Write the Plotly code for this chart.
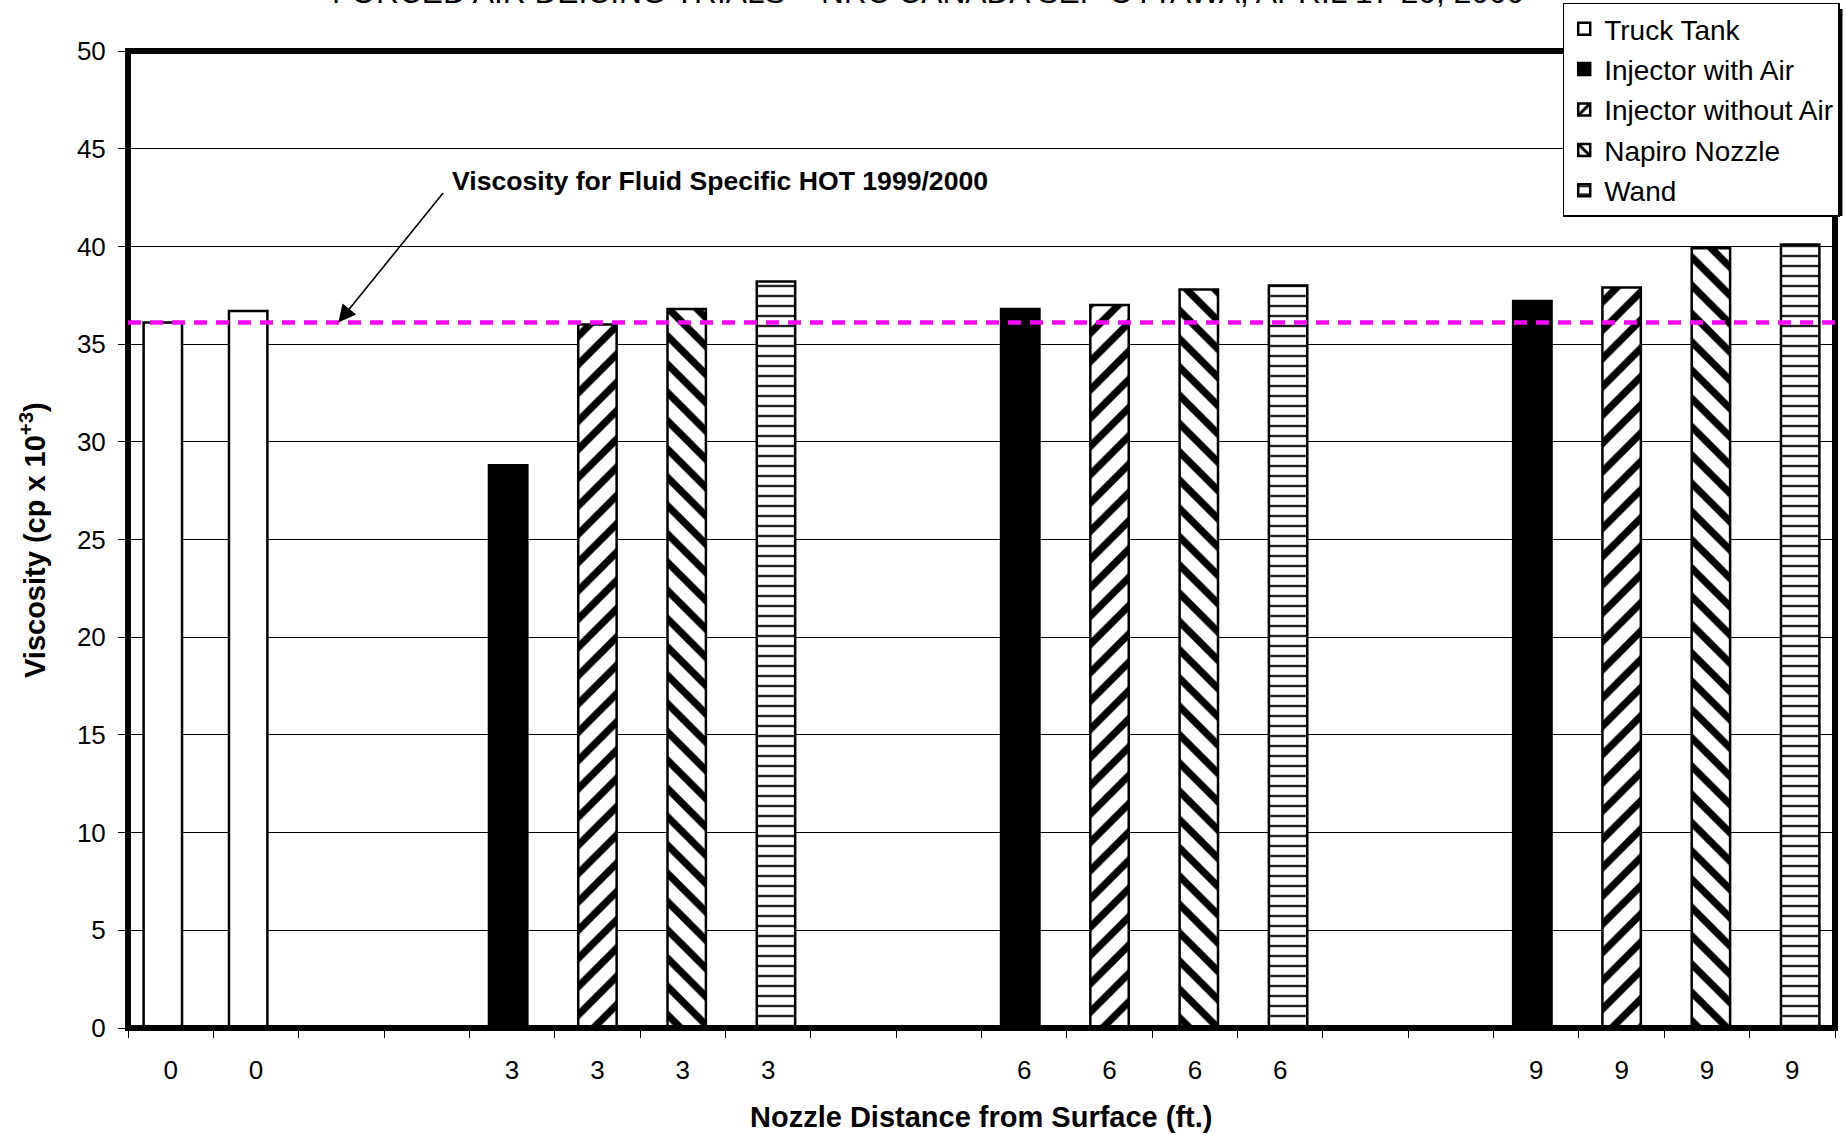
import plotly.graph_objects as go

# ---------------- data ----------------
x_labels = ["0", "0", "", "", "3", "3", "3", "3", "", "", "6", "6", "6", "6", "", "", "9", "9", "9", "9"]
series_names = ["Truck Tank", "Injector with Air", "Injector without Air", "Napiro Nozzle", "Wand"]

truck_tank = [36.1, 36.7, None, None, None, None, None, None, None, None,
              None, None, None, None, None, None, None, None, None, None]
injector_with_air = [None, None, None, None, 28.8, None, None, None, None, None,
                     36.8, None, None, None, None, None, 37.2, None, None, None]
injector_without_air = [None, None, None, None, None, 36.0, None, None, None, None,
                        None, 37.0, None, None, None, None, None, 37.9, None, None]
napiro_nozzle = [None, None, None, None, None, None, 36.8, None, None, None,
                 None, None, 37.8, None, None, None, None, None, 39.9, None]
wand = [None, None, None, None, None, None, None, 38.2, None, None,
        None, None, None, 38.0, None, None, None, None, None, 40.1]

hot_viscosity = 36.1

title_text = "FORCED AIR DEICING TRIALS \u2013 NRC CANADA SEP OTTAWA, APRIL 17-20, 2000"
hot_label = "Viscosity for Fluid Specific HOT 1999/2000"
x_title = "Nozzle Distance from Surface (ft.)"
y_title = "Viscosity (cp x 10<sup>+3</sup>)"

# ---------------- layout geometry ----------------
W, H = 1847, 1134
ML, MR, MT, MB = 128, 12, 51, 106
PW, PH = W - ML - MR, H - MT - MB


def px_x(p):
    return (p - ML) / PW


def px_y(p):
    return (H - MB - p) / PH


FONT = "Liberation Sans, Arial, sans-serif"

styles = [
    dict(color="white", pattern=None),
    dict(color="black", pattern=None),
    dict(color="white", pattern=dict(shape="/", fgcolor="#000000", bgcolor="#ffffff", fgopacity=1,
                                     size=20, solidity=0.36)),
    dict(color="white", pattern=dict(shape="\\", fgcolor="#000000", bgcolor="#ffffff", fgopacity=1,
                                     size=20, solidity=0.36)),
    dict(color="white", pattern=dict(shape="-", fgcolor="#222222", bgcolor="#ffffff", fgopacity=1,
                                     size=10, solidity=0.24)),
]

all_series = [truck_tank, injector_with_air, injector_without_air, napiro_nozzle, wand]
positions = list(range(len(x_labels)))
bar_w = 0.45
shift = 0.046

fig = go.Figure()
for s, (name, vals) in enumerate(zip(series_names, all_series)):
    st = styles[s]
    marker = dict(color=st["color"], opacity=1, line=dict(color="black", width=2.5))
    if st["pattern"] is not None:
        marker["pattern"] = st["pattern"]
    fig.add_trace(go.Bar(
        x=positions, y=vals, name=name, marker=marker, legendgroup=name,
        width=bar_w, offset=-bar_w / 2 + (s - 2) * shift,
    ))

# legend shadow (drawn below legend)
fig.add_shape(type="rect", xref="paper", yref="paper",
              x0=px_x(1568), x1=px_x(1842.5), y0=px_y(216), y1=px_y(9),
              fillcolor="black", line=dict(width=0), layer="above")

# plot border
fig.add_shape(type="rect", xref="paper", yref="paper", x0=0, x1=1, y0=0, y1=1,
              line=dict(color="black", width=6), layer="above")

# HOT viscosity line
fig.add_shape(type="line", xref="paper", yref="y", x0=0, x1=1, y0=hot_viscosity, y1=hot_viscosity,
              line=dict(color="#FF00FF", width=4.5, dash="13px,9px"), layer="above")

# arrow
fig.add_annotation(x=1.964, y=hot_viscosity, xref="x", yref="y", text="",
                   showarrow=True, ax=106, ay=-131, axref="pixel", ayref="pixel",
                   arrowhead=2, arrowsize=2.2, arrowwidth=1.6, arrowcolor="black")
# arrow label
fig.add_annotation(x=px_x(450), y=px_y(181), xref="paper", yref="paper",
                   text="<b>" + hot_label + "</b>", showarrow=False,
                   xanchor="left", yanchor="middle",
                   font=dict(family=FONT, size=26.6, color="black"))
# title (cut off at top like the reference)
fig.add_annotation(x=px_x(928), y=px_y(-8.5), xref="paper", yref="paper",
                   text=title_text, showarrow=False, xanchor="center", yanchor="middle",
                   font=dict(family=FONT, size=31.7, color="black"))
# axis titles
fig.add_annotation(x=px_x(981), y=px_y(1117), xref="paper", yref="paper",
                   text="<b>" + x_title + "</b>", showarrow=False,
                   xanchor="center", yanchor="middle",
                   font=dict(family=FONT, size=29, color="black"))
fig.add_annotation(x=px_x(33), y=px_y(540), xref="paper", yref="paper",
                   text="<b>" + y_title + "</b>", showarrow=False, textangle=-90,
                   xanchor="center", yanchor="middle",
                   font=dict(family=FONT, size=29, color="black"))

fig.update_layout(
    width=W, height=H,
    margin=dict(l=ML, r=MR, t=MT, b=MB, pad=0, autoexpand=False),
    paper_bgcolor="white", plot_bgcolor="white",
    barmode="overlay",
    font=dict(family=FONT, size=26, color="black"),
    showlegend=True,
    legend=dict(x=px_x(1562.7), y=px_y(2.5), xanchor="left", yanchor="top",
                bgcolor="white", bordercolor="black", borderwidth=1.5,
                font=dict(family=FONT, size=28, color="black"),
                tracegroupgap=1, itemclick=False, itemdoubleclick=False),
    xaxis=dict(range=[-0.5, len(x_labels) - 0.5], tickmode="array", tickvals=positions,
               ticktext=x_labels, ticks="", showgrid=False, zeroline=False, showline=False,
               ticklabelstandoff=24, tickfont=dict(size=26),
               minor=dict(ticks="outside", ticklen=9, tickwidth=1, tickcolor="black",
                          tick0=-0.5, dtick=1, showgrid=False)),
    yaxis=dict(range=[0, 50], dtick=5, tick0=0, showgrid=True, gridcolor="black", gridwidth=1,
               zeroline=False, showline=False, ticks="outside", ticklen=9, tickwidth=1,
               tickcolor="black", ticklabelstandoff=7, tickfont=dict(size=26)),
)

fig.write_html("out.html", config={"displayModeBar": False},
               post_script="document.body.style.margin='0';document.body.style.overflow='hidden';")
